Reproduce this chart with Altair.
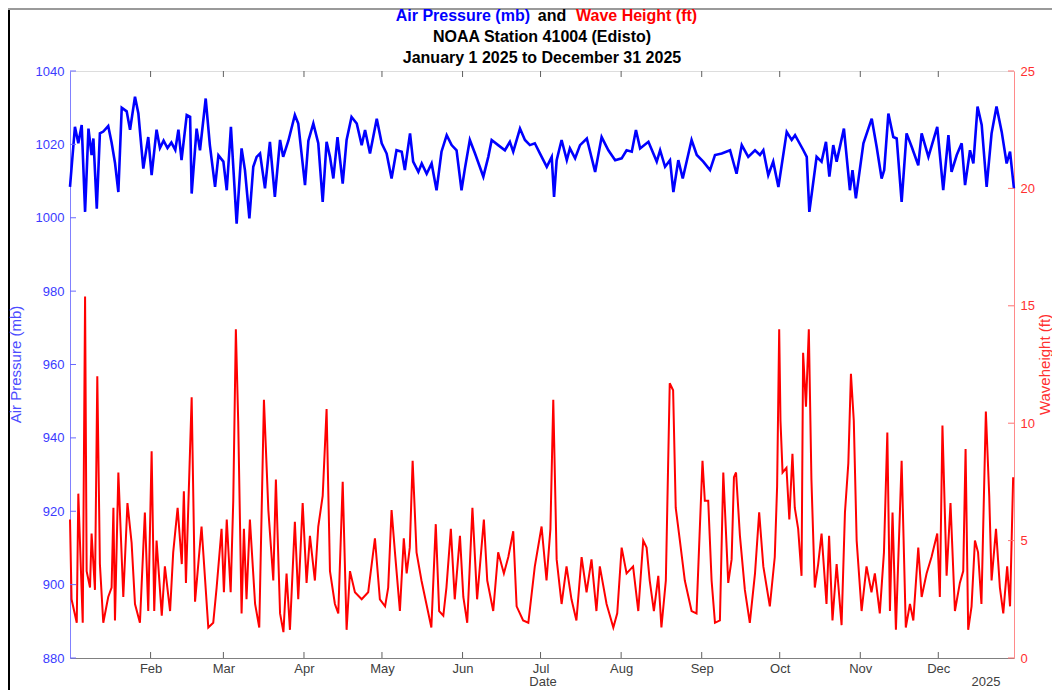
import altair as alt
import pandas as pd

# ---------------- data ----------------
# Air pressure (mb): day offsets from 2025-01-01 and readings
p_day = [0, 1.9, 3.2, 4.5, 5.8, 7.1, 8.3, 9.0, 10.3, 11.5, 12.8, 14.7, 16.0, 17.3, 18.6,
         19.9, 21.8, 23.1, 25.0, 26.3, 28.2, 30.1, 31.4, 33.3, 34.6, 36.0, 37.5, 39.0, 40.5,
         41.7, 42.9, 44.9, 46.2, 46.8, 48.7, 50.0, 52.2, 53.8, 55.8, 57.1, 59.0, 60.3, 61.9,
         64.1, 66.0, 67.3, 69.0, 70.5, 71.8, 73.1, 75.0, 76.9, 78.8, 80.8, 82.0, 84.0, 86.5,
         87.8, 90.4, 91.7, 93.6, 95.5, 97.2, 98.7, 100.0, 101.3, 102.9, 104.9, 106.4, 108.3,
         110.3, 112.2, 113.5, 115.4, 118.0, 119.9, 121.8, 123.7, 125.6, 127.6, 128.8, 130.8,
         132.0, 134.0, 135.3, 137.2, 139.1, 141.0, 142.9, 144.9, 146.8, 148.7, 150.6, 151.9,
         153.8, 155.8, 159.0, 160.9, 162.2, 164.7, 167.3, 169.2, 170.5, 173.1, 175.0, 176.9,
         178.8, 180.8, 183.4, 185.3, 186.2, 187.2, 189.1, 191.1, 192.3, 194.3, 196.2, 198.8,
         202.0, 204.5, 207.1, 209.7, 212.2, 214.1, 216.1, 217.7, 219.3, 222.5, 225.7, 227.0,
         228.9, 230.8, 232.1, 234.0, 235.7, 239.1, 241.1, 243.6, 246.2, 248.1, 250.7, 253.9,
         256.4, 258.4, 260.9, 263.5, 265.4, 266.7, 268.6, 270.5, 272.5, 275.7, 277.6, 278.9,
         282.1, 283.4, 284.4, 287.2, 289.1, 290.8, 292.1, 293.6, 294.9, 297.7, 300.0, 301.0,
         302.3, 305.2, 308.4, 310.3, 312.2, 313.2, 314.8, 316.7, 318.0, 319.9, 321.8, 323.8,
         326.3, 327.6, 330.2, 333.6, 335.9, 337.9, 339.1, 341.1, 343.0, 344.3, 346.2, 347.5,
         349.1, 350.7, 352.6, 354.5, 356.4, 358.4, 360.3, 361.6, 363.1]
p_val = [1008.4, 1024.8, 1020.3, 1025.3, 1001.6, 1024.3, 1017.1, 1021.6, 1002.5, 1023.0,
         1023.5, 1025.0, 1020.5, 1015.0, 1007.0, 1030.0, 1029.0, 1024.0, 1033.0, 1028.4,
         1013.4, 1022.0, 1011.6, 1024.0, 1019.0, 1021.0, 1019.0, 1020.5, 1018.5, 1024.0,
         1015.7, 1028.0, 1027.5, 1006.6, 1024.3, 1018.4, 1032.5, 1019.8, 1008.4, 1017.0,
         1015.3, 1007.5, 1024.8, 998.4, 1018.9, 1013.0, 999.8, 1013.9, 1016.6, 1017.5,
         1008.0, 1020.7, 1005.7, 1021.2, 1016.6, 1021.0, 1028.0, 1025.7, 1008.9, 1021.0,
         1025.7, 1020.3, 1004.3, 1020.7, 1016.6, 1010.7, 1022.0, 1009.3, 1021.2, 1027.5,
         1025.7, 1019.8, 1023.9, 1017.5, 1027.0, 1020.3, 1017.5, 1010.7, 1018.4, 1018.0,
         1013.0, 1023.0, 1015.3, 1012.5, 1014.8, 1012.0, 1014.8, 1007.5, 1018.0, 1022.5,
         1019.8, 1018.4, 1007.5, 1013.4, 1021.2, 1017.5, 1011.2, 1016.6, 1021.2, 1019.8,
         1018.4, 1020.7, 1018.0, 1024.3, 1021.2, 1019.8, 1020.3, 1017.5, 1013.9, 1016.6,
         1005.7, 1015.7, 1021.2, 1015.7, 1018.9, 1016.2, 1019.8, 1021.6, 1012.5, 1022.0,
         1018.4, 1015.7, 1016.2, 1018.4, 1018.0, 1023.9, 1018.9, 1020.7, 1015.3, 1018.4,
         1013.9, 1015.7, 1007.0, 1015.7, 1010.7, 1021.2, 1017.1, 1015.3, 1013.0, 1017.1,
         1017.5, 1018.4, 1012.0, 1019.8, 1016.6, 1018.4, 1017.1, 1018.4, 1011.6, 1015.3,
         1008.4, 1023.4, 1021.2, 1022.5, 1018.4, 1016.6, 1001.6, 1016.6, 1015.3, 1020.7,
         1011.2, 1019.8, 1015.3, 1024.3, 1007.5, 1013.0, 1005.3, 1020.3, 1027.0, 1019.3,
         1010.7, 1013.0, 1028.4, 1022.0, 1021.6, 1004.3, 1023.0, 1019.3, 1014.3, 1023.0,
         1016.6, 1024.8, 1007.5, 1022.5, 1012.5, 1017.1, 1020.3, 1008.9, 1018.4, 1014.8,
         1030.3, 1025.3, 1008.4, 1023.0, 1030.3, 1023.4, 1014.8, 1018.0, 1008.0]

# Wave height (ft): day offsets from 2025-01-01 and readings
w_day = [0, 0.6, 2.6, 3.2, 4.9, 5.8, 6.4, 7.7, 8.3, 9.6, 10.5, 11.5, 12.8, 14.7, 16.0, 16.7,
         17.3, 18.6, 20.5, 22.1, 23.7, 25.0, 26.9, 28.8, 30.1, 31.4, 32.4, 33.3, 35.3, 36.5,
         38.5, 39.7, 41.4, 43.0, 43.8, 44.6, 46.8, 48.1, 50.6, 53.2, 55.1, 56.4, 58.3, 59.2,
         60.3, 61.8, 62.8, 63.8, 64.7, 66.0, 66.9, 67.9, 69.2, 71.2, 72.8, 74.6, 76.3, 78.2,
         79.2, 80.8, 82.1, 83.3, 84.6, 86.5, 87.8, 89.5, 91.0, 92.3, 94.2, 95.5, 97.2, 98.7,
         100.0, 101.9, 103.2, 104.9, 106.4, 107.7, 109.6, 112.2, 114.7, 117.3, 119.2, 121.2,
         122.4, 123.7, 125.0, 126.9, 128.4, 129.5, 130.7, 131.8, 133.3, 135.2, 137.1, 139.0,
         140.7, 142.0, 143.6, 144.8, 146.5, 148.0, 150.0, 151.3, 152.8, 154.8, 156.6, 159.2,
         160.5, 162.8, 164.7, 166.9, 168.6, 170.5, 171.8, 174.3, 176.3, 178.8, 181.4, 183.3,
         184.8, 185.9, 187.2, 189.1, 191.0, 192.9, 194.8, 196.8, 198.7, 200.6, 202.5, 203.8,
         206.4, 209.0, 210.5, 212.2, 214.1, 216.6, 218.6, 220.5, 221.8, 223.0, 224.6, 226.3,
         227.5, 229.2, 230.7, 232.0, 233.0, 234.6, 236.5, 239.1, 241.0, 242.3, 243.3, 244.2,
         245.5, 246.8, 248.1, 250.0, 251.3, 253.2, 254.5, 255.4, 256.2, 257.7, 259.6, 261.5,
         263.5, 265.1, 266.7, 269.2, 271.1, 272.0, 272.8, 273.3, 274.1, 275.6, 276.7, 277.9,
         278.8, 280.1, 281.4, 282.0, 283.1, 284.2, 285.2, 286.5, 287.8, 289.1, 291.0, 292.0,
         293.3, 294.9, 296.8, 298.1, 299.4, 300.4, 301.5, 302.6, 304.5, 306.4, 308.3, 309.6,
         311.5, 313.1, 314.4, 315.4, 316.4, 317.7, 319.9, 321.5, 323.1, 324.4, 326.3, 327.6,
         329.5, 331.4, 333.6, 334.6, 335.6, 337.2, 338.7, 340.4, 342.3, 343.6, 344.5, 345.5,
         346.8, 348.1, 349.3, 350.6, 352.3, 353.6, 354.5, 356.2, 357.7, 359.0, 360.5, 361.6,
         362.8]
w_val = [5.9, 2.5, 1.5, 7.0, 1.5, 15.4, 3.7, 3.0, 5.3, 2.9, 12.0, 4.0, 1.5, 2.6, 3.0, 6.4,
         1.6, 7.9, 2.6, 6.6, 4.9, 2.3, 1.5, 6.2, 2.0, 8.8, 2.0, 5.0, 1.8, 3.9,
         2.0, 4.5, 6.4, 4.0, 7.1, 3.2, 11.1, 2.4, 5.6, 1.3, 1.5, 3.0, 5.5, 2.8,
         5.9, 2.8, 6.7, 14.0, 10.1, 1.9, 5.5, 2.5, 5.9, 2.3, 1.3, 11.0, 6.3, 3.3,
         7.6, 1.9, 1.1, 3.6, 1.2, 5.8, 2.5, 6.6, 3.2, 5.2, 3.3, 5.6, 6.9, 10.6,
         3.7, 2.3, 1.9, 7.5, 1.2, 3.7, 2.8, 2.5, 2.8, 5.1, 2.5, 2.2,
         3.0, 6.3, 4.5, 2.0, 5.1, 3.6, 4.7, 8.4, 4.5, 3.3, 2.3, 1.3,
         5.7, 2.0, 1.8, 3.0, 5.5, 2.5, 5.2, 2.6, 1.5, 6.4, 2.5, 5.9,
         3.3, 2.0, 4.5, 3.6, 4.3, 5.4, 2.2, 1.6, 1.5, 3.9, 5.6, 3.3,
         5.5, 11.0, 4.2, 2.3, 3.9, 2.5, 1.6, 4.3, 2.8, 4.2, 2.0, 3.9,
         2.3, 1.3, 1.9, 4.7, 3.6, 3.9, 2.0, 5.0, 4.7, 3.3, 2.0, 3.5,
         1.3, 3.3, 11.7, 11.4, 6.4, 5.0, 3.3, 2.0, 1.9, 5.6, 8.4, 6.7,
         6.7, 3.3, 1.5, 1.6, 7.9, 3.2, 4.2, 7.7, 7.9, 5.2, 2.9, 1.5,
         3.6, 6.2, 3.9, 2.2, 4.3, 7.3, 14.0, 10.1, 7.9, 8.1, 5.9, 8.7,
         6.4, 5.5, 3.5, 13.0, 10.7, 14.0, 7.6, 3.0, 4.0, 5.3, 2.3, 5.2,
         1.6, 4.0, 1.4, 6.2, 8.3, 12.1, 10.1, 5.0, 2.0, 3.9, 2.8, 3.6,
         1.9, 4.5, 9.6, 2.0, 6.2, 1.2, 8.4, 1.3, 2.3, 1.6, 4.7, 2.6,
         3.6, 4.3, 5.3, 2.6, 9.9, 3.5, 6.6, 2.0, 3.2, 3.7, 8.9, 1.2,
         2.2, 5.0, 4.5, 2.3, 10.5, 6.9, 3.3, 5.5, 3.0, 1.9, 3.9, 2.2,
         7.7]

month_ticks = ["2025-02-01", "2025-03-01", "2025-04-01", "2025-05-01", "2025-06-01",
               "2025-07-01", "2025-08-01", "2025-09-01", "2025-10-01", "2025-11-01",
               "2025-12-01"]
p_ticks = [880, 900, 920, 940, 960, 980, 1000, 1020, 1040]
w_ticks = [0, 5, 10, 15, 20, 25]

start = pd.Timestamp("2025-01-01")


def to_iso(days):
    return [(start + pd.Timedelta(days=d)).strftime("%Y-%m-%dT%H:%M:%S") for d in days]


pdf = pd.DataFrame({"date": to_iso(p_day), "pressure": p_val})
wdf = pd.DataFrame({"date": to_iso(w_day), "wave": w_val})
mdf = pd.DataFrame({"date": [m + "T00:00:00" for m in month_ticks]})
ptdf = pd.DataFrame({"v": p_ticks})
wtdf = pd.DataFrame({"v": w_ticks})

W, H = 944, 587
FONT = "Liberation Sans"
BLUE, RED = "#0000ff", "#ff0000"

xdom = [alt.DateTime(year=2025, month=1, date=1),
        alt.DateTime(year=2025, month=12, date=30, hours=3)]
xscale = alt.Scale(domain=xdom)
pscale = alt.Scale(domain=[880, 1040], nice=False, zero=False)
wscale = alt.Scale(domain=[0, 25], nice=False, zero=False)

x_axis = alt.Axis(values=[alt.DateTime(year=2025, month=m, date=1) for m in range(2, 13)],
                  format="%b", labelColor="#404040", labelFont=FONT, labelFontSize=13,
                  domainColor="#808080", ticks=False, labelPadding=4, grid=False,
                  title=None, labelOverlap=False, labelFlush=False)


def xenc():
    return alt.X("date:T", scale=xscale, axis=x_axis)


pressure = alt.Chart(pdf).mark_line(color=BLUE, strokeWidth=2.6).encode(
    x=xenc(),
    y=alt.Y("pressure:Q", scale=pscale,
            axis=alt.Axis(orient="left", values=p_ticks, format="d", labelColor="#3b3bff",
                          domainColor="#8080ff", ticks=False, labelPadding=6,
                          labelFont=FONT, labelFontSize=13, grid=False, title=None)),
)

wave = alt.Chart(wdf).mark_line(color=RED, strokeWidth=2).encode(
    x=xenc(),
    y=alt.Y("wave:Q", scale=wscale,
            axis=alt.Axis(orient="right", values=w_ticks, format="d", labelColor="#ff3030",
                          domainColor="#ff8a8a", ticks=False, labelPadding=6,
                          labelFont=FONT, labelFontSize=13, grid=False, title=None)),
)

lticks = alt.Chart(ptdf).mark_rule(color="#6a6aff").encode(
    y=alt.Y("v:Q", scale=pscale, axis=None), x=alt.value(0), x2=alt.value(6))
rticks = alt.Chart(wtdf).mark_rule(color="#ff7070").encode(
    y=alt.Y("v:Q", scale=wscale, axis=None), x=alt.value(W - 6), x2=alt.value(W))
bticks = alt.Chart(mdf).mark_rule(color="#606060").encode(
    x=xenc(), y=alt.value(H - 6), y2=alt.value(H))
tticks = alt.Chart(mdf).mark_rule(color="#606060").encode(
    x=xenc(), y=alt.value(0), y2=alt.value(6))

base_txt = alt.Chart(pd.DataFrame({"a": [0]}))


def label(text, x, y, color="#000000", size=16, weight="bold", align="center",
          angle=0, baseline="middle"):
    return base_txt.mark_text(text=text, color=color, font=FONT, fontSize=size,
                              fontWeight=weight, align=align, angle=angle,
                              baseline=baseline).encode(x=alt.value(x), y=alt.value(y))


titles = [
    label("Air Pressure (mb)", 460, -55, color=BLUE, align="right"),
    label("and", 482, -55),
    label("Wave Height (ft)", 506, -55, color=RED, align="left"),
    label("NOAA Station 41004 (Edisto)", W / 2, -34),
    label("January 1 2025 to December 31 2025", W / 2, -13),
    label("Air Pressure (mb)", -54, H / 2, color="#4d4dff", size=15, weight="normal",
          angle=270),
    label("Waveheight (ft)", W + 31, H / 2, color="#ff3030", size=15, weight="normal",
          angle=270),
    label("Date", 473, 615, color="#404040", size=13, weight="normal",
          baseline="alphabetic"),
    label("2025", 916, 615, color="#404040", size=13, weight="normal",
          baseline="alphabetic"),
]

frame_left = base_txt.mark_rule(color="#000000", strokeWidth=2).encode(
    x=alt.value(-61), y=alt.value(-63), y2=alt.value(H + 40))
frame_top = base_txt.mark_rule(color="#9a9a9a", strokeWidth=2).encode(
    x=alt.value(-62), x2=alt.value(W + 40), y=alt.value(-62))

chart = alt.layer(
    pressure, wave, lticks, rticks, bticks, tticks, frame_left, frame_top, *titles
).resolve_scale(y="independent").resolve_axis(y="independent").properties(
    width=W, height=H,
    autosize="none",
    padding={"left": 62, "top": 63, "right": 38, "bottom": 32},
).configure_view(stroke="#808080", strokeWidth=1).configure(background="white")

chart.save("out.html", embed_options={"renderer": "svg", "actions": False})
